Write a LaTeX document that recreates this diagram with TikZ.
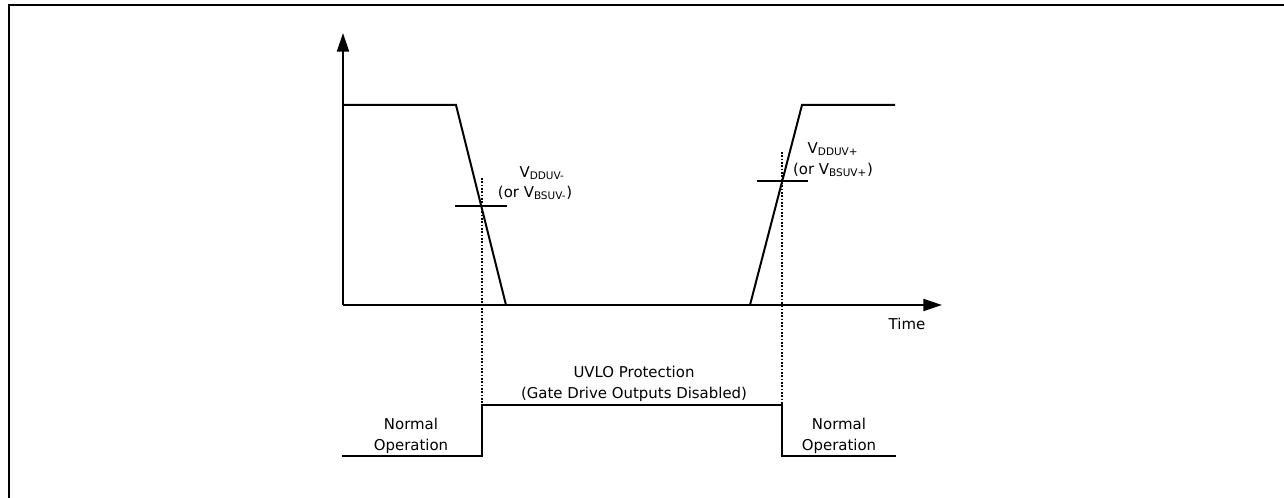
\documentclass[tikz,border=0pt]{standalone}
\usepackage{fontspec}
\setmainfont{DejaVu Sans}
\usetikzlibrary{arrows.meta}
\begin{document}
\begin{tikzpicture}[x=0.75pt,y=-0.75pt,
  wave/.style={line width=1.5pt,line join=miter},
  axis/.style={line width=1.5pt,-{Triangle[length=14pt,width=9pt]}},
  guide/.style={line width=1.2pt,dash pattern=on 1.2pt off 1.3pt},
  lbl/.style={font=\fontsize{11.2}{15.5}\selectfont,inner sep=0pt,align=center},
  frame/.style={line width=1.5pt}]
\useasboundingbox (0,0) rectangle (1284,498);
\draw[frame] (9,498) -- (9,5) -- (1284,5);
% axes
\coordinate (O) at (343,305);
\coordinate (ytop) at (343,33);
\coordinate (xend) at (942,305);
\draw[axis] (O) -- (ytop);
\draw[axis] (O) -- (xend);
% upper waveform
\coordinate (h0) at (343,105);
\coordinate (h1) at (456,105);
\coordinate (l1) at (506,305);
\coordinate (l2) at (750,305);
\coordinate (h2) at (802,105);
\coordinate (h3) at (895,105);
\draw[wave] (h0) -- (h1) -- (l1);
\draw[wave] (l2) -- (h2) -- (h3);
% thresholds
\coordinate (t1a) at (455,206); \coordinate (t1b) at (507,206);
\coordinate (t2a) at (757,181); \coordinate (t2b) at (808,181);
\draw[line width=1.3pt] (t1a) -- (t1b);
\draw[line width=1.3pt] (t2a) -- (t2b);
% guides
\coordinate (g1t) at (482,178); \coordinate (g1b) at (482,405);
\coordinate (g2t) at (782,152); \coordinate (g2b) at (782,405);
\draw[guide] (g1t) -- (g1b);
\draw[guide] (g2t) -- (g2b);
% lower waveform
\coordinate (b0) at (342,456);
\coordinate (b1) at (482,456);
\coordinate (b2) at (482,405);
\coordinate (b3) at (782,405);
\coordinate (b4) at (782,456);
\coordinate (b5) at (896,456);
\draw[wave] (b0) -- (b1) -- (b2) -- (b3) -- (b4) -- (b5);
% labels
\node[lbl] (vm1) at (542,173) {V\textsubscript{DDUV-}};
\node[lbl] (vm2) at (535,193) {(or V\textsubscript{BSUV-})};
\node[lbl] (vp1) at (833,149) {V\textsubscript{DDUV+}};
\node[lbl] (vp2) at (833,170) {(or V\textsubscript{BSUV+})};
\node[lbl] (time) at (907,324) {Time};
\node[lbl] (nl) at (411,436) {Normal\\Operation};
\node[lbl] (uv) at (634,384) {UVLO Protection\\(Gate Drive Outputs Disabled)};
\node[lbl] (nr) at (839,436) {Normal\\Operation};
\end{tikzpicture}
\end{document}
